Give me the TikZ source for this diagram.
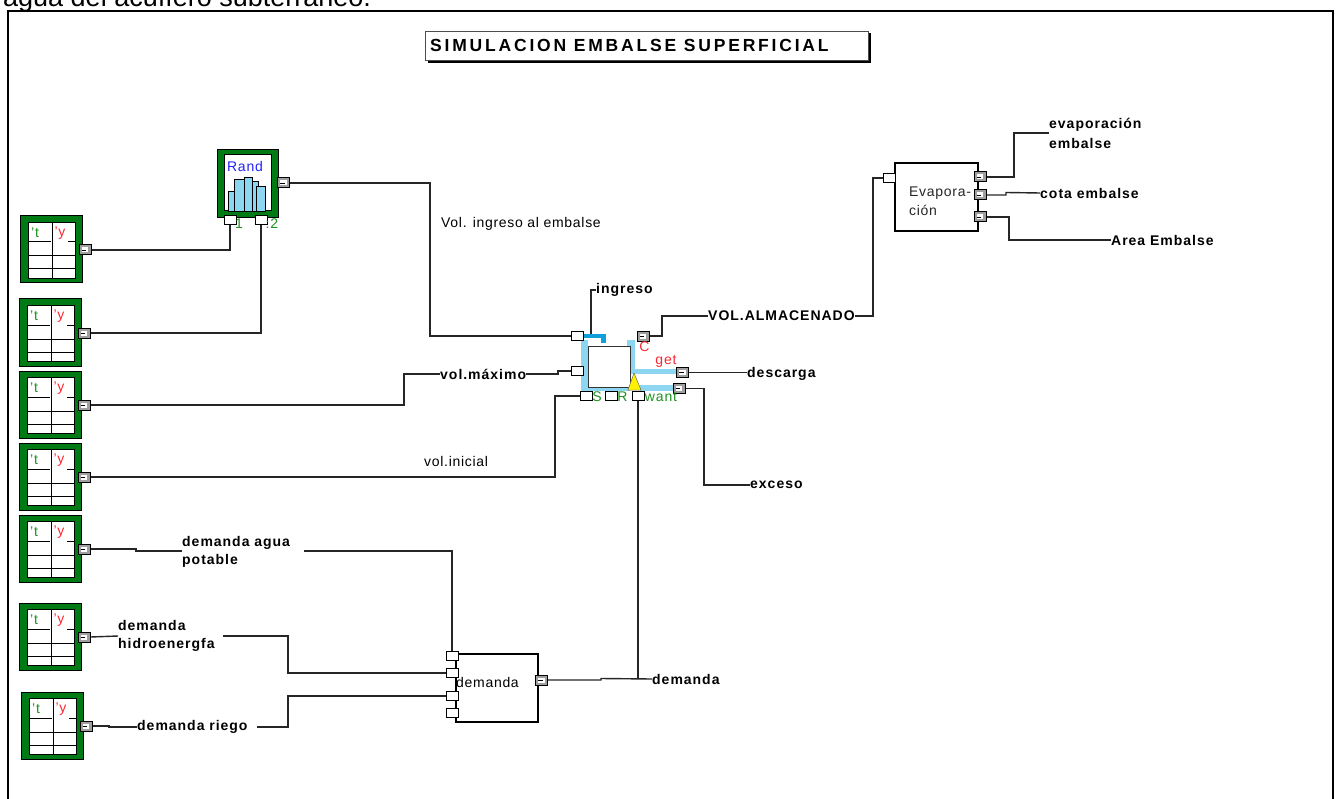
\documentclass[tikz,border=0pt]{standalone}
\usepackage{fontspec}
\setmainfont{Liberation Sans}
\definecolor{dgreen}{RGB}{0,122,20}
\definecolor{lgreen}{RGB}{30,145,30}
\definecolor{lred}{RGB}{250,40,50}
\definecolor{lblue}{RGB}{35,35,250}
\definecolor{bandblue}{RGB}{140,214,242}
\definecolor{inletblue}{RGB}{15,160,220}
\tikzset{
    wire/.style={line width=1.4pt, draw=black!85},
    framing/.style={line width=1.8pt, draw=black},
    band/.style={fill=bandblue, draw=none},
    inport/.style={shape=rectangle, draw=black, fill=white, line width=1pt, minimum width=12pt, minimum height=9.5pt, inner sep=0pt},
    outport/.style={shape=rectangle, draw=black, fill=gray!75, line width=1pt, minimum width=12pt, minimum height=10pt, inner sep=0pt,
        path picture={
            \fill[white] (path picture bounding box.center) ++(-3.5pt,-2.5pt) rectangle ++(6.5pt,5pt);
            \draw[black, line width=.8pt] (path picture bounding box.center) ++(-3.5pt,0pt) -- ++(4.5pt,0pt);
        }},
    greenbox/.style={shape=rectangle, draw=black, fill=dgreen, line width=1pt, inner sep=0pt},
    block/.style={shape=rectangle, draw=black, fill=white, line width=1.1pt, inner sep=0pt},
    boldlabel/.style={anchor=west, inner sep=0pt, align=left, font=\fontsize{14}{18}\selectfont\addfontfeature{LetterSpace=7}\bfseries},
    plainlabel/.style={anchor=west, inner sep=0pt, align=left, font=\fontsize{14}{19}\selectfont\addfontfeature{LetterSpace=5}},
    greenlabel/.style={inner sep=0pt, text=lgreen, font=\fontsize{14}{15}\selectfont\addfontfeature{LetterSpace=6}},
    redlabel/.style={inner sep=0pt, text=lred, font=\fontsize{14}{15}\selectfont\addfontfeature{LetterSpace=6}}
}
\newcommand{\datatable}[3]{
    \begin{scope}[shift={(#2,#3)}]
        \node[greenbox, minimum width=62pt, minimum height=67pt] (#1) at (31,33.5) {};
        \node[shape=rectangle, draw=black, fill=white, line width=1pt, minimum width=47pt, minimum height=56pt, inner sep=0pt] (#1cells) at (32,34.5) {};
        \draw[line width=1pt] (32,6) -- (32,63);
        \draw[line width=1pt] (8,26) -- (31,26);
        \draw[line width=1pt] (48,26) -- (55,26);
        \draw[line width=1pt] (8,40) -- (55,40);
        \draw[line width=1pt] (8,53) -- (55,53);
        \node[greenlabel] (#1t) at (15,17) {'t};
        \node[redlabel] (#1y) at (40,17) {'y};
        \node[outport] (#1out) at (65,34) {};
    \end{scope}
}

\begin{document}
\begin{tikzpicture}[x=1pt,y=-1pt]
    \clip (0,0) rectangle (1340,799);
    \node[anchor=base west, inner sep=0pt, font=\fontsize{27}{30}\selectfont] (heading) at (3,7) {agua del acuífero subterráneo.};
    \draw[framing] (8,799) -- (8,11) -- (1333,11) -- (1333,799);

    % title
    \fill[black] (428,33) rectangle (871,63);
    \node[shape=rectangle, draw=black!70, fill=white, line width=.6pt, minimum width=443pt, minimum height=29pt, inner sep=0pt] (titlebox) at (646.5,45.5) {};
    \node[anchor=west, inner sep=0pt, font=\fontsize{17.5}{19}\selectfont\addfontfeature{LetterSpace=16}\bfseries] (title) at (430,45) {SIMULACION EMBALSE SUPERFICIAL};

    % inputs
    \datatable{tableA}{20}{216}
    \datatable{tableB}{19}{299}
    \datatable{tableC}{19}{371}
    \datatable{tableD}{19}{443}
    \datatable{tableE}{19}{515}
    \datatable{tableF}{19}{603}
    \datatable{tableG}{21}{692}

    % random block
    \node[greenbox, minimum width=61pt, minimum height=68pt] (rand) at (247.5,184) {};
    \node[shape=rectangle, draw=black, fill=white, line width=1pt, minimum width=47pt, minimum height=56pt, inner sep=0pt] (randinner) at (247.5,183) {};
    \node[inner sep=0pt, text=lblue, font=\fontsize{14}{15}\selectfont\addfontfeature{LetterSpace=6}] (randtext) at (245,166) {Rand};
    \draw[fill=bandblue, line width=.9pt] (244,211) rectangle (252,177);
    \draw[fill=bandblue, line width=.9pt] (228,211) rectangle (235,191);
    \draw[fill=bandblue, line width=.9pt] (234,211) rectangle (244,179);
    \draw[fill=bandblue, line width=.9pt] (252,211) rectangle (258,181);
    \draw[fill=bandblue, line width=.9pt] (256,211) rectangle (265,186);
    \node[outport] (randout) at (283.5,183) {};
    \node[inport] (randA) at (230,220) {};
    \node[inport] (randB) at (261,220) {};
    \node[greenlabel] (randAtext) at (239,224) {1};
    \node[greenlabel] (randBtext) at (272,224) {:2};

    % reservoir
    \fill[band] (581,340) rectangle (588,391);
    \fill[band] (581,387) rectangle (630,391);
    \fill[band] (627,340) rectangle (635,347);
    \fill[band] (630,340) rectangle (635,374);
    \fill[band] (631,369) rectangle (677,374);
    \fill[band] (640,385) rectangle (675,391);
    \fill[inletblue] (583,334) rectangle (606,338);
    \fill[inletblue] (601,334) rectangle (606,343);
    \node[shape=rectangle, draw=black!80, fill=white, line width=1pt, minimum width=42pt, minimum height=41pt, inner sep=0pt] (tank) at (609,366.5) {};
    \draw[fill=yellow, draw=black!60, line width=.5pt] (634,373) -- (641,390) -- (628,390) -- cycle;

    \node[inport] (tankIn) at (577.5,336) {};
    \node[inport] (tankMax) at (577,371) {};
    \node[inport] (tankS) at (586,396) {};
    \node[inport] (tankR) at (611,396) {};
    \node[inport] (tankWant) at (638,396) {};
    \node[outport] (tankC) at (643,336) {};
    \node[outport] (tankGet) at (682.5,372.5) {};
    \node[outport] (tankExc) at (679,388.5) {};
    \node[greenlabel] (textS) at (597,397) {S};
    \node[greenlabel] (textR) at (622.5,397) {R};
    \node[greenlabel] (textWant) at (661,397) {want};
    \node[redlabel] (textC) at (644.5,346.5) {C};
    \node[redlabel] (textGet) at (666,361) {get};

    % demand block
    \node[block, minimum width=82pt, minimum height=68pt] (demandbox) at (497,688) {};
    \node[anchor=west, inner sep=0pt, font=\fontsize{14}{15}\selectfont\addfontfeature{LetterSpace=5}] (demandtext) at (456,682) {demanda};
    \node[inport] (demandA) at (452,656) {};
    \node[inport] (demandB) at (452,673) {};
    \node[inport] (demandC) at (452,696) {};
    \node[inport] (demandD) at (452,713) {};
    \node[outport] (demandOut) at (541.5,680) {};

    % evaporation block
    \node[block, minimum width=83pt, minimum height=68pt] (evapbox) at (936.5,197) {};
    \node[plainlabel, text=black!85] (evaptext) at (909,201.5) {Evapora-\\ción};
    \node[inport] (evapIn) at (889,178) {};
    \node[outport] (evapA) at (980,177) {};
    \node[outport] (evapB) at (980,195) {};
    \node[outport] (evapC) at (980,217) {};

    % labels
    \node[plainlabel] (volingreso) at (441,224) {Vol. ingreso al embalse};
    \node[plainlabel] (volinicial) at (424,461) {vol.inicial};
    \node[boldlabel] (ingreso) at (596,290) {ingreso};
    \node[boldlabel] (almacenado) at (708,316) {VOL.ALMACENADO};
    \node[boldlabel] (volmaximo) at (440,374) {vol.máximo};
    \node[boldlabel] (descarga) at (747,374) {descarga};
    \node[boldlabel] (exceso) at (750,485) {exceso};
    \node[boldlabel] (demanda) at (652,679) {demanda};
    \node[boldlabel] (potable) at (182,552) {demanda agua\\potable};
    \node[boldlabel] (hidro) at (118,636) {demanda\\hidroenergfa};
    \node[boldlabel] (riego) at (137,727) {demanda riego};
    \node[boldlabel] (evapo) at (1049,133) {evaporación\\[2pt]embalse};
    \node[boldlabel] (cota) at (1040,193) {cota embalse};
    \node[boldlabel] (area) at (1111,240) {Area Embalse};

    \coordinate (potableEnd) at (304,551);
    \coordinate (hidroEnd) at (223,636);
    \coordinate (riegoEnd) at (257,727);
    \coordinate (ingresoFoot) at (591,334);

    % connectors
    \draw[wire] (tableAout.east) -| (randA.south);
    \draw[wire] (tableBout.east) -| (randB.south);
    \draw[wire] (randout.east) -| (430,260) |- (tankIn.west);
    \draw[wire] (tableCout.east) -| (404,390) |- (volmaximo.west);
    \draw[wire] (volmaximo.east) -- (558,374) -- (558,371) -- (tankMax.west);
    \draw[wire] (tableDout.east) -| (555,430) |- (tankS.west);
    \draw[wire] (tableEout.east) -- (136,549) -- (136,551) -- (potable.west |- potableEnd);
    \draw[wire] (potableEnd) -| (demandA.north);
    \draw[wire] (tableFout.east) -- (hidro.west);
    \draw[wire] (hidroEnd) -| (288,650) |- (demandB.west);
    \draw[wire] (tableGout.east) -- (109,726) -- (109,727) -- (riego.west);
    \draw[wire] (riegoEnd) -| (288,710) |- (demandC.west);
    \draw[wire] (demandOut.east) -- (601,680) -- (601,678.5) -- (demanda.west);
    \draw[wire] (tankWant.south) -- (tankWant.south |- demanda.west);
    \draw[wire] (ingresoFoot) |- (ingreso.west);
    \draw[wire] (tankC.east) -| (662,325) |- (almacenado.west);
    \draw[wire] (almacenado.east) -| (873,250) |- (evapIn.west);
    \draw[wire] (tankGet.east) -- (tankGet.east -| descarga.west);
    \draw[wire] (tankExc.east) -| (704,440) |- (exceso.west);
    \draw[wire] (evapA.east) -| (1014,150) |- (evapo.west);
    \draw[wire] (evapB.east) -- (1006,195) -- (1006,192.5) -- (cota.west);
    \draw[wire] (evapC.east) -| (1009,230) |- (area.west);
\end{tikzpicture}
\end{document}
